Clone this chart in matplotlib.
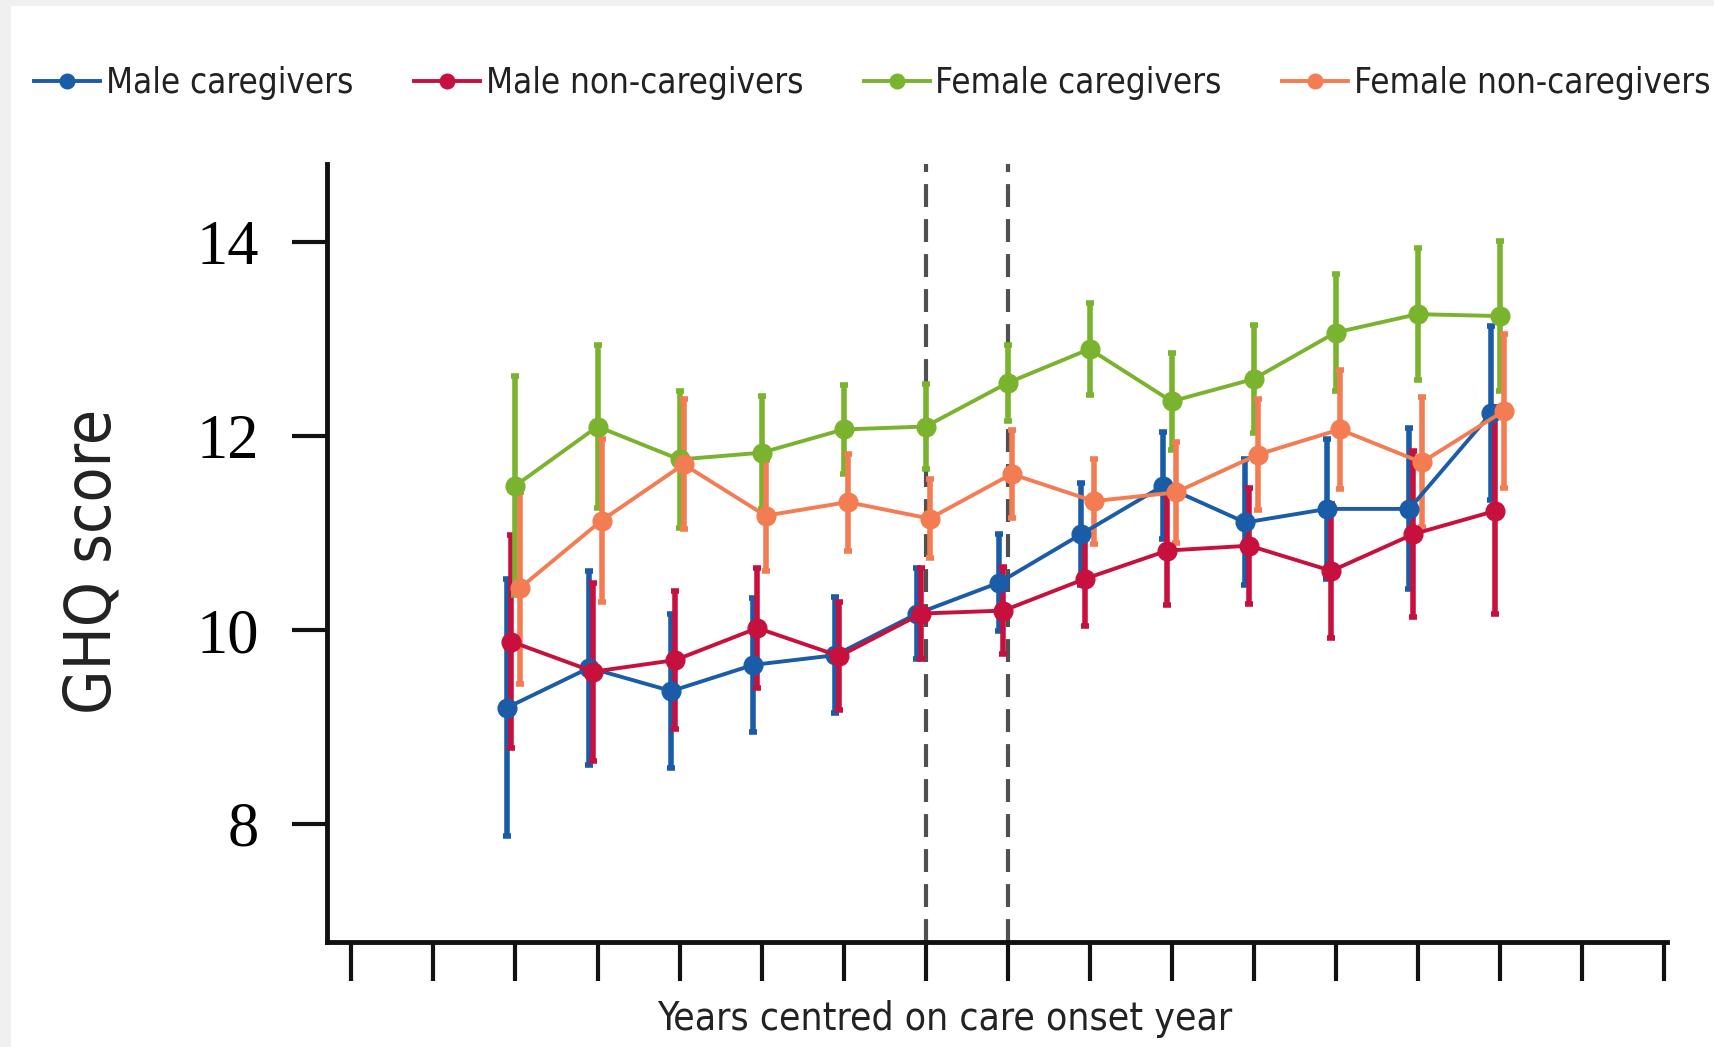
import numpy as np
import matplotlib
matplotlib.use("Agg")
import matplotlib.pyplot as plt
from matplotlib.patches import Rectangle
from matplotlib import font_manager

# years relative to care onset
years = [-6, -5, -4, -3, -2, -1, 0, 1, 2, 3, 4, 5, 6]

male_care = [9.20, 9.61, 9.37, 9.64, 9.74, 10.17, 10.49, 10.99, 11.49, 11.11, 11.25, 11.25, 12.24]
male_care_err = [1.33, 1.00, 0.79, 0.69, 0.60, 0.47, 0.50, 0.53, 0.55, 0.65, 0.72, 0.83, 0.90]

male_non = [9.88, 9.57, 9.69, 10.02, 9.73, 10.17, 10.20, 10.53, 10.82, 10.87, 10.61, 10.99, 11.23]
male_non_err = [1.10, 0.92, 0.71, 0.62, 0.56, 0.47, 0.45, 0.49, 0.56, 0.60, 0.69, 0.86, 1.07]

female_care = [11.49, 12.10, 11.76, 11.83, 12.07, 12.10, 12.55, 12.90, 12.36, 12.59, 13.07, 13.26, 13.24]
female_care_err = [1.13, 0.84, 0.71, 0.58, 0.46, 0.44, 0.39, 0.47, 0.50, 0.56, 0.60, 0.68, 0.77]

female_non = [10.43, 11.13, 11.71, 11.18, 11.32, 11.15, 11.61, 11.33, 11.42, 11.81, 12.07, 11.73, 12.26]
female_non_err = [0.99, 0.84, 0.67, 0.57, 0.50, 0.41, 0.45, 0.44, 0.52, 0.57, 0.61, 0.67, 0.79]

labels = ["Male caregivers", "Male non-caregivers", "Female caregivers", "Female non-caregivers"]
colors = ["#1b5ca8", "#c8103e", "#7ab32e", "#f47c52"]
offsets = [-0.1, -0.05, 0.0, 0.05]

xticks = list(range(-8, 9))
yticks = [8, 10, 12, 14]
onset_lines = [-1, 0]

# condensed sans if there is one, else plain DejaVu
cond_fp = None
for f in font_manager.fontManager.ttflist:
    if ("Condensed" in f.name or "Narrow" in f.name or f.stretch in ("condensed", 300)) and f.weight in ("normal", 400, "regular") and f.style == "normal":
        cond_fp = f.fname
        break

def sans(size):
    if cond_fp:
        return font_manager.FontProperties(fname=cond_fp, size=size)
    return font_manager.FontProperties(family="DejaVu Sans", stretch="condensed", size=size)

fig = plt.figure(figsize=(17.14, 10.47), dpi=100)
fig.patch.set_facecolor("#f0f0f0")
fig.patches.append(Rectangle((11 / 1714, 0), 1, 1 - 6 / 1047, transform=fig.transFigure,
                             facecolor="white", edgecolor="none", zorder=-10))

ax = fig.add_axes([0.191, 0.1003, 0.7815, 0.7431])
ax.set_facecolor("none")

series = [(male_care, male_care_err), (male_non, male_non_err),
          (female_care, female_care_err), (female_non, female_non_err)]
for (vals, errs), lab, col, off in zip(series, labels, colors, offsets):
    xs = np.array(years) + off
    ax.errorbar(xs, vals, yerr=errs, color=col, marker="o", markersize=13.5,
                lw=2.8, elinewidth=4, capsize=3, capthick=4, label=lab)

for x in onset_lines:
    ax.axvline(x, color="#505050", lw=3, dashes=(5.5, 2.9), zorder=0)

ax.set_xlim(-8.294, 8.04)
ax.set_ylim(6.78, 14.81)
ax.set_xticks(xticks)
ax.set_xticklabels([])
ax.set_yticks(yticks)
ax.set_yticklabels([str(v) for v in yticks], family=["Liberation Serif", "DejaVu Serif"], fontsize=45)

for s in ["top", "right"]:
    ax.spines[s].set_visible(False)
for s in ["left", "bottom"]:
    ax.spines[s].set_linewidth(3.5)
    ax.spines[s].set_color("#111111")
ax.tick_params(axis="x", direction="out", length=28, width=3, color="#111111")
ax.tick_params(axis="y", direction="out", length=25, width=3, color="#111111", pad=24)

fig.text(0.054, 0.464, "GHQ score", rotation=90, ha="center", va="center",
         fontproperties=sans(46), color="#222222")
fig.text(0.551, 0.027, "Years centred on care onset year", ha="center", va="center",
         fontproperties=sans(28), color="#222222")

leg_handles = [plt.Line2D([], [], color=c, marker="o", markersize=10.5, lw=2.8) for c in colors]
fig.legend(leg_handles, labels, loc="center", bbox_to_anchor=(0.509, 0.921), ncol=4,
           frameon=False, prop=sans(25), handlelength=1.9,
           handletextpad=0.16, columnspacing=1.75, labelcolor="#222222")

fig.savefig("out.png", dpi=100)
